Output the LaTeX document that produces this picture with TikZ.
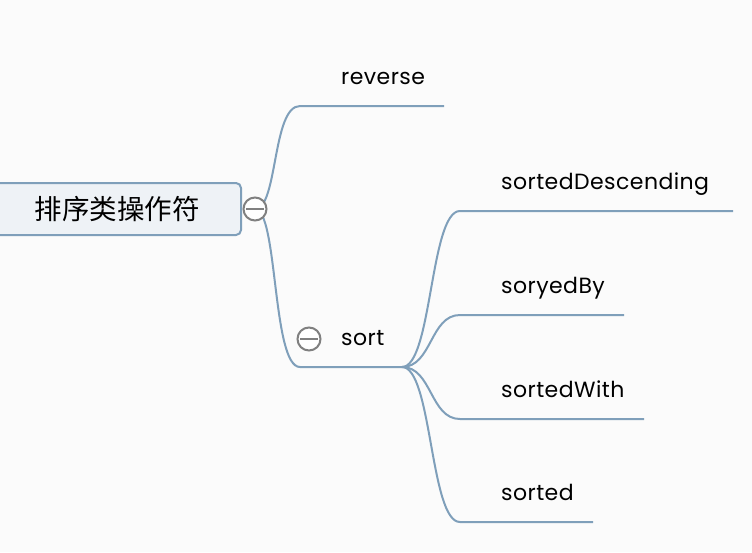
\documentclass[tikz,border=0pt]{standalone}
\usepackage{fontspec}
\setmainfont[LetterSpace=2]{Poppins}
\newfontfamily\cjk{Noto Sans CJK SC}
\definecolor{linec}{HTML}{7F9FBA}
\definecolor{rootfill}{HTML}{EEF2F6}
\definecolor{bg}{HTML}{FBFBFB}
\definecolor{circc}{HTML}{808080}
\begin{document}
\begin{tikzpicture}[x=1pt,y=-1pt,
  branch/.style={draw=linec,line width=2pt},
  lbl/.style={font=\fontsize{22}{26}\selectfont,anchor=base west,inner sep=0pt},
  toggle/.style={circle,draw=circc,fill=white,line width=2pt,minimum size=23pt,inner sep=0pt,
    path picture={\draw[circc,line width=2pt] ([xshift=-9pt]path picture bounding box.center) -- ([xshift=9pt]path picture bounding box.center);}}]
\fill[bg] (0,0) rectangle (752,552);
\useasboundingbox (0,0) rectangle (752,552);
% root
\draw[draw=linec,fill=rootfill,line width=2pt,rounded corners=5pt] (-20,183) rectangle (241,235);
\node[font=\cjk\fontsize{27.5}{32}\selectfont,inner sep=0pt] (root) at (117,209) {排序类操作符};
% coordinates
\coordinate (rc) at (255,209);
\coordinate (revs) at (300,106);
\coordinate (reve) at (444,106);
\coordinate (sorts) at (300,367);
\coordinate (hub) at (402,367);
\coordinate (d1s) at (460,211); \coordinate (d1e) at (733,211);
\coordinate (d2s) at (460,315); \coordinate (d2e) at (624,315);
\coordinate (d3s) at (460,419); \coordinate (d3e) at (644,419);
\coordinate (d4s) at (460,522); \coordinate (d4e) at (593,522);
% branches
\draw[branch] (rc) .. controls (278,209) and (272,106) .. (revs) -- (reve);
\draw[branch] (rc) .. controls (278,209) and (272,367) .. (sorts) -- (hub);
\draw[branch] (hub) .. controls (432,367) and (430,211) .. (d1s) -- (d1e);
\draw[branch] (hub) .. controls (432,367) and (430,315) .. (d2s) -- (d2e);
\draw[branch] (hub) .. controls (432,367) and (430,419) .. (d3s) -- (d3e);
\draw[branch] (hub) .. controls (432,367) and (430,522) .. (d4s) -- (d4e);
% toggles
\node[toggle] (t1) at (rc) {};
\node[toggle] (t2) at (309,339) {};
% labels
\node[lbl] (reverse) at (341,84) {reverse};
\node[lbl] (sort) at (341,345) {sort};
\node[lbl] (sd) at (501,189) {sortedDescending};
\node[lbl] (sb) at (501,293) {soryedBy};
\node[lbl] (sw) at (501,397) {sortedWith};
\node[lbl] (st) at (501,500) {sorted};
\end{tikzpicture}
\end{document}
